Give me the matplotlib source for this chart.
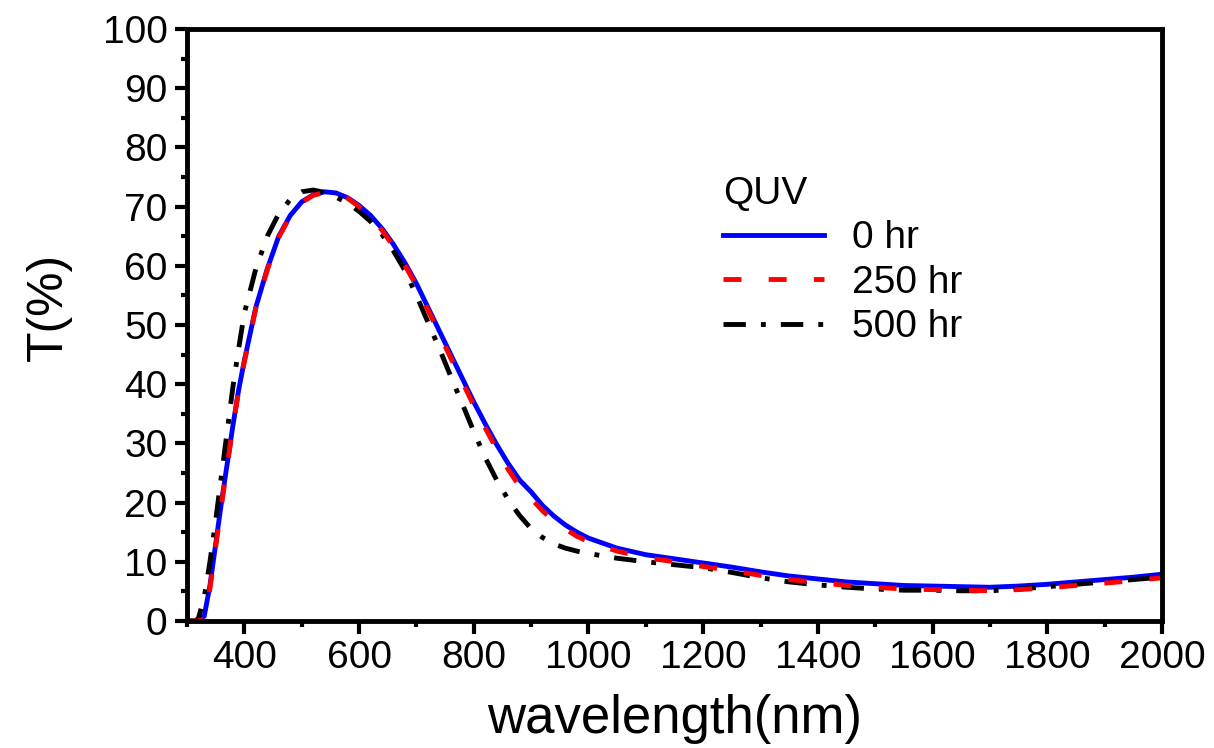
import numpy as np
import matplotlib.pyplot as plt
from matplotlib.ticker import MultipleLocator

plt.rcParams['font.family'] = ['Liberation Sans', 'DejaVu Sans']

# wavelength (nm) and transmittance (%)
wl_0 = [300, 320, 330, 340, 350, 360, 370, 380, 390, 400, 420, 440, 460, 480,
        500, 520, 540, 560, 580, 600, 620, 640, 660, 680, 700, 720, 740, 760,
        780, 800, 820, 840, 860, 880, 890, 900, 920, 940, 960, 980, 1000, 1050,
        1100, 1150, 1200, 1250, 1300, 1350, 1400, 1450, 1500, 1550, 1600, 1650,
        1700, 1750, 1800, 1850, 1900, 1950, 2000]
t_0 = [0, 0, 0.8, 6, 13, 20, 26.5, 33, 39, 44, 53, 59.5, 65, 68.5,
       70.8, 72, 72.5, 72.3, 71.5, 70.2, 68.5, 66.3, 63.6, 60.5, 57, 53, 49, 45,
       41, 37, 33.3, 29.8, 26.6, 23.8, 22.8, 21.8, 19.5, 17.7, 16.2, 15, 14, 12.3,
       11.2, 10.5, 9.8, 9.1, 8.3, 7.6, 7.1, 6.6, 6.3, 6.0, 5.9, 5.8,
       5.7, 5.9, 6.2, 6.6, 7.0, 7.4, 7.9]

wl_250 = wl_0
t_250 = [0, 0, 0.3, 5.5, 12.5, 19.5, 26.2, 32.8, 38.8, 43.8, 52.8, 59.3, 64.8, 68.4,
         70.7, 71.9, 72.4, 72.2, 71.4, 70.0, 68.3, 66.0, 63.3, 60.1, 56.6, 52.6, 48.5, 44.4,
         40.4, 36.4, 32.6, 29.0, 25.6, 22.7, 21.7, 20.7, 18.6, 16.9, 15.5, 14.3, 13.4, 11.8,
         10.7, 10.0, 9.2, 8.5, 7.7, 7.0, 6.5, 6.0, 5.7, 5.4, 5.3, 5.2,
         5.1, 5.3, 5.6, 6.0, 6.4, 6.8, 7.3]

wl_500 = [300, 315, 320, 330, 340, 350, 360, 370, 380, 390, 400, 420, 440, 460,
          480, 500, 520, 540, 560, 580, 600, 620, 640, 660, 680, 700, 720, 740,
          760, 780, 800, 820, 840, 860, 880, 900, 920, 940, 960, 980, 1000, 1050,
          1100, 1150, 1200, 1250, 1300, 1350, 1400, 1450, 1500, 1550, 1600, 1650,
          1700, 1750, 1800, 1850, 1900, 1950, 2000]
t_500 = [0, 0, 0.5, 4, 10, 17, 24.5, 32, 39.5, 46, 52, 59.5, 65, 68.8,
         71.2, 72.5, 72.8, 72.4, 71.6, 70.6, 69.2, 67.5, 65.3, 62.5, 59.2, 55, 50.5, 46,
         41.3, 36.7, 32, 27.6, 23.8, 20.5, 17.8, 15.6, 14.1, 13.0, 12.3, 11.8, 11.4, 10.6,
         10.0, 9.5, 9.0, 8.2, 7.3, 6.6, 6.1, 5.7, 5.4, 5.2, 5.2, 5.1,
         5.1, 5.4, 5.8, 6.2, 6.6, 7.0, 7.4]

labels = ['0 hr', '250 hr', '500 hr']

fig = plt.figure(figsize=(12.14, 7.48), dpi=100)
ax = fig.add_axes([187 / 1214, 1 - 621 / 748, 975 / 1214, 592 / 748])

l0, = ax.plot(wl_0, t_0, color='#0000ff', lw=3.5, label=labels[0])
l2, = ax.plot(wl_500, t_500, color='black', lw=3.5, dashes=(4.6, 3.1, 1.0, 3.1),
              label=labels[2])
l1, = ax.plot(wl_250, t_250, color='#ff0000', lw=3.5, dashes=(3.7, 5.6),
              label=labels[1])

ax.set_xlim(300, 2000)
ax.set_ylim(0, 100)
ax.xaxis.set_major_locator(MultipleLocator(200))
ax.xaxis.set_minor_locator(MultipleLocator(100))
ax.yaxis.set_major_locator(MultipleLocator(10))
ax.yaxis.set_minor_locator(MultipleLocator(5))

for s in ax.spines.values():
    s.set_linewidth(3.5)
ax.tick_params(which='major', length=9, width=3, labelsize=28, pad=5)
ax.tick_params(which='minor', length=4, width=3)

ax.set_xlabel('wavelength(nm)', fontsize=38, labelpad=13)
ax.set_ylabel('T(%)', fontsize=36)
ax.yaxis.set_label_coords(-0.118, 0.53)

leg = ax.legend(handles=[l0, l1, l2], title='QUV', frameon=False,
                loc='upper left', bbox_to_anchor=(0.55, 0.752),
                fontsize=28, title_fontsize=28, handlelength=2.6,
                handletextpad=0.7, labelspacing=0.22, borderpad=0,
                borderaxespad=0, alignment='left')

fig.savefig('out.png', dpi=100)
